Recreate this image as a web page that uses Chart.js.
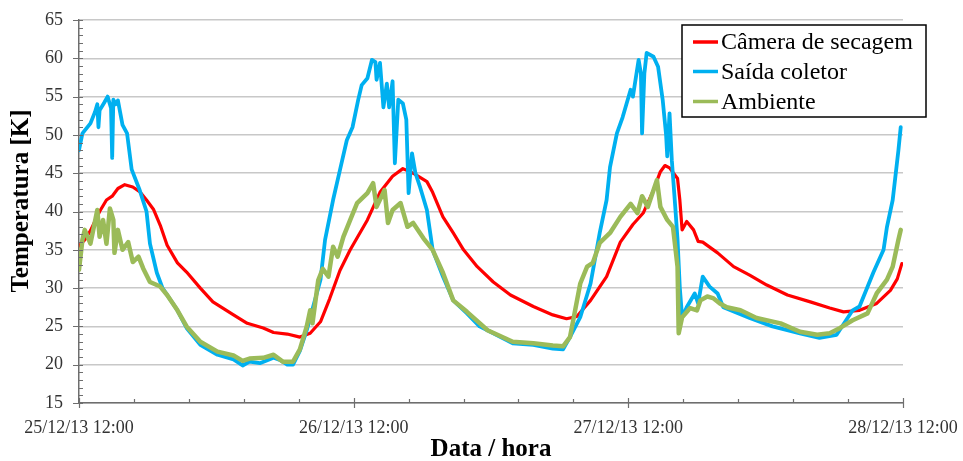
<!DOCTYPE html>
<html>
<head>
<meta charset="utf-8">
<title>Temperatura</title>
<script src="https://cdn.jsdelivr.net/npm/chart.js@4.4.1/dist/chart.umd.min.js"></script>
<style>
  html, body { margin: 0; padding: 0; background: #fff; }
  #wrap { width: 963px; height: 461px; }
</style>
</head>
<body>
<div id="wrap"><canvas id="chart" width="963" height="461"></canvas></div>
<script>
// x = horas desde 25/12/13 12:00
const tickLabels = ['25/12/13 12:00', '26/12/13 12:00', '27/12/13 12:00', '28/12/13 12:00'];
const seriesNames = ['Câmera de secagem', 'Saída coletor', 'Ambiente'];

const camaraH = [0.0, 0.5, 1.0, 1.8, 2.4, 2.9, 3.4, 4.0, 4.7, 5.3, 5.9, 6.5, 7.1, 7.7, 8.6, 9.4, 10.6, 11.7, 13.5, 14.7,
  16.1, 17.0, 18.2, 19.3, 20.2, 21.1, 21.9, 22.8, 23.7, 25.2, 26.3, 27.4, 28.3, 29.2, 30.4, 30.9, 31.8, 32.7, 33.6, 34.8,
  36.2, 37.7, 39.7, 41.4, 42.6, 43.5, 44.7, 46.1, 47.3, 48.4, 49.3, 50.2, 50.8, 51.2, 51.6, 52.3, 52.5, 52.7, 53.1, 53.7,
  54.1, 54.5, 55.8, 57.2, 58.6, 60.1, 61.9, 63.9, 65.6, 66.8, 68.2, 69.7, 70.9, 71.5, 71.9];
const camaraT = [35.5, 36.3, 37.5, 40.0, 41.5, 42.0, 43.0, 43.5, 43.2, 42.6, 41.5, 40.3, 38.2, 35.6, 33.3, 32.1, 30.0, 28.2, 26.5, 25.4,
  24.8, 24.2, 24.0, 23.6, 24.1, 25.6, 28.6, 32.3, 35.0, 38.9, 42.5, 44.6, 45.6, 45.0, 43.9, 42.5, 39.3, 37.2, 35.0, 32.8,
  30.8, 29.1, 27.6, 26.5, 26.0, 26.3, 28.4, 31.5, 36.0, 38.3, 39.8, 42.8, 45.2, 46.0, 45.7, 44.3, 41.5, 37.6, 38.7, 37.6,
  36.1, 36.0, 34.6, 32.8, 31.7, 30.4, 29.1, 28.2, 27.4, 26.9, 27.1, 28.0, 29.7, 31.2, 33.2];

const saidaH = [0.0, 0.3, 1.0, 1.4, 1.6, 1.7, 1.8, 2.2, 2.5, 2.7, 2.8, 2.9, 3.0, 3.2, 3.4, 3.8, 4.2, 4.6, 5.3, 5.9,
  6.2, 6.8, 7.3, 8.6, 9.4, 10.6, 12.1, 13.5, 14.3, 14.9, 15.8, 17.0, 17.6, 18.2, 18.7, 19.3, 19.9, 21.1, 21.5, 22.2,
  22.8, 23.4, 23.9, 24.4, 24.7, 25.2, 25.6, 25.9, 26.0, 26.3, 26.6, 26.9, 27.1, 27.4, 27.6, 27.9, 28.3, 28.6, 28.8, 29.1,
  29.4, 29.8, 30.4, 30.9, 31.8, 32.7, 33.9, 35.0, 36.2, 37.9, 39.7, 41.4, 42.3, 42.9, 43.8, 44.7, 45.5, 46.1, 46.4, 47.0,
  47.5, 48.2, 48.4, 48.9, 49.1, 49.2, 49.4, 49.6, 50.2, 50.6, 51.0, 51.3, 51.4, 51.6, 51.8, 52.1, 52.3, 52.5, 52.7, 53.1,
  53.8, 54.1, 54.5, 55.1, 55.8, 56.3, 58.6, 60.6, 63.0, 64.7, 66.2, 67.6, 68.2, 69.4, 70.3, 70.6, 71.1, 71.6, 71.8];
const saidaT = [48.0, 50.2, 51.5, 53.0, 54.0, 51.0, 53.2, 54.2, 55.0, 54.0, 53.5, 47.0, 54.6, 54.0, 54.5, 51.3, 50.2, 45.5, 42.8, 40.0,
  35.8, 32.0, 30.0, 27.1, 24.8, 22.6, 21.3, 20.7, 19.9, 20.4, 20.2, 20.9, 20.6, 20.0, 20.0, 21.8, 24.5, 31.1, 36.3, 41.5,
  45.4, 49.3, 51.0, 54.6, 56.5, 57.4, 59.8, 59.5, 57.2, 59.4, 53.6, 56.7, 53.6, 57.0, 46.3, 54.6, 54.1, 52.0, 42.4, 47.6,
  45.0, 43.2, 40.2, 35.0, 31.5, 28.4, 26.7, 25.0, 24.1, 22.8, 22.6, 22.1, 22.0, 23.6, 26.2, 30.6, 37.2, 41.5, 45.8, 50.2,
  52.3, 55.9, 55.0, 59.8, 58.0, 50.2, 58.0, 60.7, 60.2, 58.9, 54.6, 50.0, 47.2, 52.8, 46.7, 40.6, 36.3, 30.0, 26.2, 27.5,
  29.3, 28.0, 31.5, 30.2, 29.3, 27.5, 26.1, 25.0, 24.1, 23.5, 23.9, 27.1, 27.6, 32.0, 35.0, 38.0, 41.5, 48.0, 51.0];

const ambienteH = [0.0, 0.3, 0.5, 1.0, 1.6, 1.8, 2.1, 2.4, 2.7, 3.0, 3.1, 3.4, 3.8, 4.3, 4.7, 5.2, 5.6, 6.2, 7.1, 7.7,
  8.6, 9.4, 10.6, 12.1, 13.5, 14.3, 14.9, 16.1, 17.0, 17.8, 18.7, 19.3, 19.9, 20.2, 20.4, 20.9, 21.3, 21.8, 22.2, 22.6,
  23.1, 23.7, 24.3, 25.2, 25.7, 26.0, 26.7, 27.0, 27.4, 28.1, 28.7, 29.2, 30.1, 30.9, 31.8, 32.7, 33.9, 35.7, 37.9, 39.7,
  41.4, 42.3, 42.9, 43.3, 43.8, 44.4, 44.9, 45.5, 46.4, 47.3, 48.2, 48.8, 49.2, 49.7, 50.5, 50.8, 51.4, 51.9, 52.3, 52.4,
  52.7, 53.4, 54.0, 54.3, 54.9, 55.4, 56.0, 56.6, 57.8, 59.2, 61.3, 63.0, 64.5, 65.6, 66.5, 67.6, 68.9, 69.7, 70.6, 71.1,
  71.6, 71.8];
const ambienteT = [32.4, 36.3, 37.6, 35.8, 40.2, 36.7, 38.9, 35.8, 40.4, 38.9, 34.6, 37.6, 35.0, 36.0, 33.4, 34.1, 32.6, 30.8, 30.2, 29.1,
  27.1, 25.0, 23.0, 21.7, 21.2, 20.5, 20.8, 20.9, 21.3, 20.4, 20.4, 22.0, 25.0, 27.1, 25.4, 31.0, 32.5, 31.5, 35.4, 34.1,
  36.7, 38.9, 41.1, 42.4, 43.7, 40.6, 42.8, 38.5, 40.2, 41.1, 38.0, 38.5, 36.5, 35.0, 32.0, 28.4, 26.9, 24.5, 23.0, 22.8,
  22.5, 22.4, 23.6, 26.7, 30.6, 32.8, 33.3, 35.9, 37.2, 39.3, 41.0, 39.8, 42.0, 40.6, 44.1, 40.6, 38.9, 38.0, 32.8, 24.1,
  26.2, 27.4, 27.1, 28.4, 28.9, 28.7, 28.0, 27.5, 27.1, 26.1, 25.4, 24.3, 23.9, 24.1, 24.8, 25.8, 26.7, 29.3, 31.1, 32.8,
  36.3, 37.6];

const toPoints = (hs, ts) => hs.map((h, i) => ({ x: h, y: ts[i] }));

Chart.defaults.font.family = "'Liberation Serif', 'Times New Roman', serif";
Chart.defaults.color = '#333';

const axisColor = '#6e6e6e';

// marcas de escala (maiores e menores), titulos dos eixos e legenda
const decor = {
  id: 'decor',
  afterDraw(chart) {
    const { ctx, chartArea: a, scales: { x, y } } = chart;
    ctx.save();
    ctx.strokeStyle = axisColor;
    ctx.lineWidth = 1.2;
    ctx.beginPath();
    for (let v = 15; v <= 65; v++) {
      const py = Math.round(y.getPixelForValue(v)) + 0.5;
      const major = v % 5 === 0;
      ctx.moveTo(a.left - (major ? 6 : 0), py);
      ctx.lineTo(a.left + 4, py);
    }
    for (let i = 0; i <= 15; i++) {
      const px = Math.round(x.getPixelForValue(i * 4.8)) + 0.5;
      const major = i % 5 === 0;
      ctx.moveTo(px, a.bottom - (major ? 5 : 4));
      ctx.lineTo(px, a.bottom + (major ? 5 : 0));
    }
    ctx.stroke();

    // titulos
    ctx.fillStyle = '#000';
    ctx.font = "bold 25px 'Liberation Serif', serif";
    ctx.textAlign = 'center';
    ctx.textBaseline = 'alphabetic';
    ctx.fillText('Data / hora', (a.left + a.right) / 2, 456);
    ctx.save();
    ctx.translate(22, 201);
    ctx.rotate(-Math.PI / 2);
    ctx.textBaseline = 'middle';
    ctx.fillText('Temperatura [K]', 0, 0);
    ctx.restore();

    // legenda
    const bx = 682, by = 25, bw = 244, bh = 92;
    ctx.fillStyle = '#fff';
    ctx.fillRect(bx, by, bw, bh);
    ctx.strokeStyle = '#000';
    ctx.lineWidth = 1.5;
    ctx.strokeRect(bx, by, bw, bh);
    ctx.font = "24px 'Liberation Serif', serif";
    ctx.textAlign = 'left';
    ctx.textBaseline = 'middle';
    const rows = [42, 71.5, 101.5];
    chart.data.datasets.forEach((ds, i) => {
      ctx.strokeStyle = ds.borderColor;
      ctx.lineWidth = 3.5;
      ctx.beginPath();
      ctx.moveTo(693, rows[i]);
      ctx.lineTo(718, rows[i]);
      ctx.stroke();
      ctx.fillStyle = '#000';
      ctx.fillText(ds.label, 721, rows[i] + 1);
    });
    ctx.restore();
  }
};

new Chart(document.getElementById('chart'), {
  type: 'line',
  data: {
    datasets: [
      { label: seriesNames[0], data: toPoints(camaraH, camaraT), borderColor: '#FF0000', borderWidth: 3.2, order: 2 },
      { label: seriesNames[1], data: toPoints(saidaH, saidaT), borderColor: '#00B0F0', borderWidth: 3.8, order: 1 },
      { label: seriesNames[2], data: toPoints(ambienteH, ambienteT), borderColor: '#9BBB59', borderWidth: 4.5, order: 0 }
    ]
  },
  options: {
    responsive: false,
    animation: false,
    parsing: false,
    elements: {
      point: { radius: 0 },
      line: { tension: 0, borderJoinStyle: 'round', borderCapStyle: 'round', fill: false }
    },
    layout: { padding: { top: 20, right: 60, left: 0, bottom: 0 } },
    plugins: { legend: { display: false }, tooltip: { enabled: false } },
    scales: {
      x: {
        type: 'linear',
        min: 0,
        max: 72,
        afterFit: (s) => { s.height = 58; s.paddingLeft = 0; s.paddingRight = 0; },
        grid: { display: false },
        border: { display: true, color: axisColor, width: 1.5 },
        ticks: {
          stepSize: 24,
          padding: 6,
          maxRotation: 0,
          font: { size: 18 },
          callback: (v) => tickLabels[Math.round(v / 24)]
        }
      },
      y: {
        min: 15,
        max: 65,
        afterFit: (s) => { s.width = 79; s.paddingTop = 0; s.paddingBottom = 0; },
        grid: { color: '#c8c8c8', lineWidth: 1.5, drawTicks: false },
        border: { display: true, color: axisColor, width: 1.5 },
        ticks: { stepSize: 5, padding: 16, font: { size: 18 } }
      }
    }
  },
  plugins: [decor]
});
</script>
</body>
</html>
